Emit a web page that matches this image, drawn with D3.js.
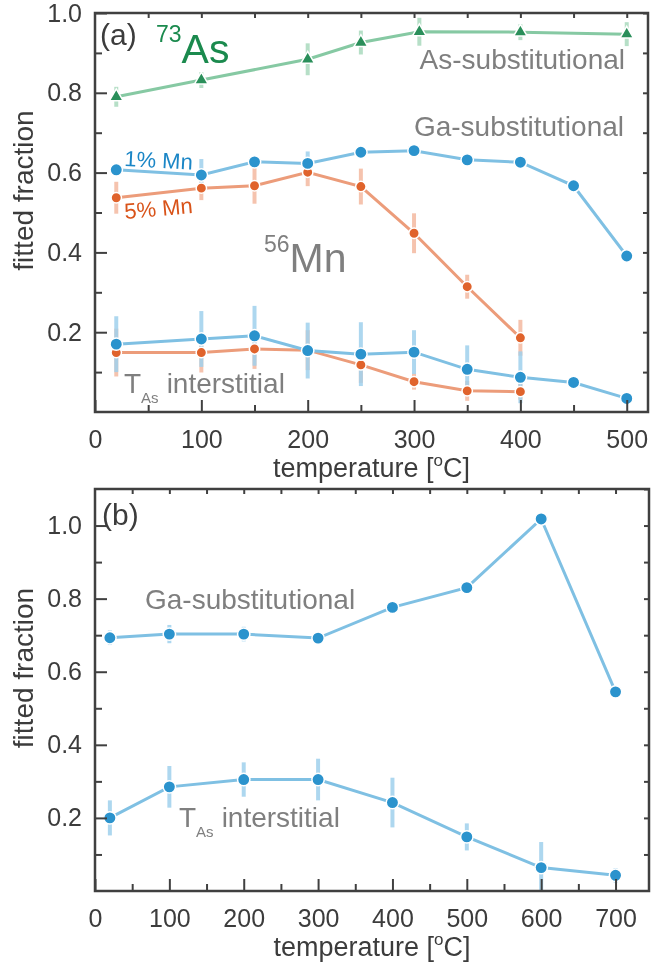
<!DOCTYPE html>
<html>
<head>
<meta charset="utf-8">
<script src="https://cdn.jsdelivr.net/npm/d3@7"></script>
<style>
  body { margin: 0; background: #fff; }
  svg { font-family: "Liberation Sans", Arial, sans-serif; }
  .tick line { stroke: #404040; stroke-width: 2; }
  .tick text { fill: #3c3c3c; font-size: 25px; }
  .err { mix-blend-mode: multiply; }
</style>
</head>
<body>
<div id="chart"></div>
<script>
// panel (a) data
const tempsA = [20, 100, 150, 200, 250, 300, 350, 400, 450, 500];
const tempsA5 = [20, 100, 150, 200, 250, 300, 350, 400];
const asSubTemps = [20, 100, 200, 250, 305, 400, 500];
const asSub = [0.79, 0.832, 0.884, 0.926, 0.953, 0.952, 0.947];
const asSubErr = [0.025, 0.02, 0.04, 0.03, 0.035, 0.02, 0.03];
const gaSub1 = [0.607, 0.594, 0.627, 0.623, 0.651, 0.655, 0.632, 0.626, 0.567, 0.391];
const gaSub1Err = [0.015, 0.04, 0.01, 0.03, 0.015, 0.012, 0.015, 0.01, 0.01, 0.01];
const gaSub5 = [0.537, 0.561, 0.567, 0.601, 0.565, 0.448, 0.314, 0.186];
const gaSub5Err = [0.04, 0.03, 0.045, 0.035, 0.045, 0.05, 0.03, 0.045];
const tas1 = [0.17, 0.183, 0.191, 0.154, 0.145, 0.15, 0.107, 0.087, 0.074, 0.034];
const tas1Err = [0.07, 0.07, 0.075, 0.07, 0.08, 0.055, 0.06, 0.065, 0.008, 0.008];
const tas5 = [0.149, 0.149, 0.158, 0.155, 0.118, 0.076, 0.053, 0.051];
const tas5Err = [0.06, 0.05, 0.05, 0.05, 0.045, 0.02, 0.025, 0.02];

// panel (b) data
const tempsB = [20, 100, 200, 300, 400, 500, 600, 700];
const gaSubB = [0.693, 0.703, 0.703, 0.692, 0.776, 0.83, 1.018, 0.545];
const gaSubBErr = [0.02, 0.025, 0.02, 0.01, 0.015, 0.015, 0.015, 0.008];
const tasB = [0.2, 0.285, 0.305, 0.305, 0.242, 0.148, 0.064, 0.043];
const tasBErr = [0.048, 0.057, 0.047, 0.057, 0.068, 0.037, 0.07, 0.02];

// ticks
const xTicksA = [0, 100, 200, 300, 400, 500];
const xTicksB = [0, 100, 200, 300, 400, 500, 600, 700];
const yTicks = [0.2, 0.4, 0.6, 0.8, 1.0];
const yMinorTicks = [0.1, 0.3, 0.5, 0.7, 0.9];

const green = { mark: "#2a8f5a", line: "#86c9a3", err: "#a9dabd" };
const blue = { mark: "#2b93cd", line: "#7fc0e3", err: "#9fd0ec" };
const orange = { mark: "#e0632c", line: "#ec9c7a", err: "#f4b9a0" };
const gray = "#7f7f7f";

const svg = d3.select("#chart").append("svg")
  .attr("width", 652).attr("height", 966);

function drawFrame(x, y, xTicks, yMax, id) {
  const [x0, x1] = x.range();
  const [yb, yt] = y.range();
  const g = svg.append("g");

  svg.append("clipPath").attr("id", id)
    .append("rect").attr("x", x0).attr("y", yt).attr("width", x1 - x0).attr("height", yb - yt);

  const minorX = d3.range(50, x.domain()[1], 100);
  const allX = d3.range(50, x.domain()[1], 50);
  const allY = d3.range(0.1, yMax + 0.001, 0.1);

  g.append("g").attr("transform", `translate(0,${yb})`)
    .call(d3.axisBottom(x).tickValues(xTicks).tickSize(-12).tickPadding(18));
  g.append("g").attr("transform", `translate(0,${yb})`)
    .call(d3.axisBottom(x).tickValues(minorX).tickSize(-7).tickFormat(""));
  g.append("g").attr("transform", `translate(0,${yt})`)
    .call(d3.axisTop(x).tickValues(allX).tickSize(-5).tickFormat(""));
  g.append("g").attr("transform", `translate(${x0},0)`)
    .call(d3.axisLeft(y).tickValues(yTicks).tickSize(-12).tickPadding(13).tickFormat(d3.format(".1f")));
  g.append("g").attr("transform", `translate(${x0},0)`)
    .call(d3.axisLeft(y).tickValues(yMinorTicks).tickSize(-7).tickFormat(""));
  g.append("g").attr("transform", `translate(${x1},0)`)
    .call(d3.axisRight(y).tickValues(allY).tickSize(-5).tickFormat(""));
  g.selectAll(".domain").remove();

  g.append("rect")
    .attr("x", x0).attr("y", yt).attr("width", x1 - x0).attr("height", yb - yt)
    .attr("fill", "none").attr("stroke", "#404040").attr("stroke-width", 2.5);

  // axis titles
  const xt = g.append("text")
    .attr("x", (x0 + x1) / 2).attr("y", yb + 65)
    .attr("text-anchor", "middle").attr("font-size", 27).attr("fill", "#3c3c3c");
  xt.append("tspan").text("temperature [");
  xt.append("tspan").attr("font-size", 17).attr("dy", -11).text("o");
  xt.append("tspan").attr("dy", 11).text("C]");

  g.append("text")
    .attr("transform", `translate(33,${(yb + yt) / 2 - 22}) rotate(-90)`)
    .attr("text-anchor", "middle").attr("font-size", 28).attr("fill", "#3c3c3c")
    .text("fitted fraction");
  return g;
}

function drawErrors(x, y, temps, vals, errs, col, clip) {
  svg.append("g").attr("clip-path", `url(#${clip})`)
    .selectAll("line").data(temps).join("line")
    .attr("class", "err")
    .attr("x1", d => x(d)).attr("x2", d => x(d))
    .attr("y1", (d, i) => y(vals[i] - errs[i]))
    .attr("y2", (d, i) => y(vals[i] + errs[i]))
    .attr("stroke", col.err).attr("stroke-width", 4).attr("opacity", 0.85);
}

function drawLine(x, y, temps, vals, col, shape, r) {
  const pts = temps.map((t, i) => [t, vals[i]]);
  svg.append("path").datum(pts)
    .attr("fill", "none").attr("stroke", col.line).attr("stroke-width", 3)
    .attr("d", d3.line().x(d => x(d[0])).y(d => y(d[1])));
  const sym = d3.symbol().type(shape === "tri" ? d3.symbolTriangle : d3.symbolCircle)
    .size(shape === "tri" ? 80 : Math.PI * r * r);
  svg.append("g").selectAll("path").data(pts).join("path")
    .attr("transform", d => `translate(${x(d[0])},${y(d[1])})`)
    .attr("d", sym)
    .attr("fill", col.mark).attr("stroke", "#fff").attr("stroke-width", 1.5);
}

// ---------- panel (a)
const xA = d3.scaleLinear().domain([0, 520]).range([95, 648]);
const yA = d3.scaleLinear().domain([0, 1]).range([412, 13]);

drawErrors(xA, yA, asSubTemps, asSub, asSubErr, green, "clipA");
drawErrors(xA, yA, tempsA5, gaSub5, gaSub5Err, orange, "clipA");
drawErrors(xA, yA, tempsA, gaSub1, gaSub1Err, blue, "clipA");
drawErrors(xA, yA, tempsA5, tas5, tas5Err, orange, "clipA");
drawErrors(xA, yA, tempsA, tas1, tas1Err, blue, "clipA");

drawLine(xA, yA, asSubTemps, asSub, green, "tri");
drawLine(xA, yA, tempsA5, gaSub5, orange, "circle", 5.2);
drawLine(xA, yA, tempsA, gaSub1, blue, "circle", 6.2);
drawLine(xA, yA, tempsA5, tas5, orange, "circle", 5.2);
drawLine(xA, yA, tempsA, tas1, blue, "circle", 6.2);

drawFrame(xA, yA, xTicksA, 1.0, "clipA");

svg.append("text").attr("x", 100).attr("y", 45).attr("font-size", 30).attr("fill", "#3c3c3c").text("(a)");
const as73 = svg.append("text").attr("x", 156).attr("y", 63).attr("fill", "#1b8a4e");
as73.append("tspan").attr("font-size", 23).attr("dy", -21).text("73");
as73.append("tspan").attr("font-size", 41).attr("dy", 21).text("As");
svg.append("text").attr("x", 625).attr("y", 69).attr("text-anchor", "end")
  .attr("font-size", 28).attr("fill", gray).text("As-substitutional");
svg.append("text").attr("x", 624).attr("y", 136).attr("text-anchor", "end")
  .attr("font-size", 28).attr("fill", gray).text("Ga-substitutional");
svg.append("text").attr("transform", "translate(124,166) rotate(3)")
  .attr("font-size", 22).attr("fill", "#1b86c6").text("1% Mn");
svg.append("text").attr("transform", "translate(125,219) rotate(-5)")
  .attr("font-size", 22).attr("fill", "#d95319").text("5% Mn");
const mn56 = svg.append("text").attr("x", 264).attr("y", 272).attr("fill", gray);
mn56.append("tspan").attr("font-size", 23).attr("dy", -20).text("56");
mn56.append("tspan").attr("font-size", 41).attr("dy", 20).text("Mn");
const tasA = svg.append("text").attr("x", 124).attr("y", 393).attr("fill", gray).attr("font-size", 28);
tasA.append("tspan").text("T");
tasA.append("tspan").attr("font-size", 15).attr("dy", 10).text("As");
tasA.append("tspan").attr("dy", -10).attr("dx", 8).text("interstitial");

// ---------- panel (b)
const xB = d3.scaleLinear().domain([0, 745]).range([95, 649]);
const yB = d3.scaleLinear().domain([0, 1.1]).range([891, 489]);

drawErrors(xB, yB, tempsB, gaSubB, gaSubBErr, blue, "clipB");
drawErrors(xB, yB, tempsB, tasB, tasBErr, blue, "clipB");
drawLine(xB, yB, tempsB, gaSubB, blue, "circle", 6.2);
drawLine(xB, yB, tempsB, tasB, blue, "circle", 6.2);

drawFrame(xB, yB, xTicksB, 1.1, "clipB");

svg.append("text").attr("x", 102).attr("y", 525).attr("font-size", 30).attr("fill", "#3c3c3c").text("(b)");
svg.append("text").attr("x", 145).attr("y", 609)
  .attr("font-size", 28).attr("fill", gray).text("Ga-substitutional");
const tasBt = svg.append("text").attr("x", 179).attr("y", 827).attr("fill", gray).attr("font-size", 28);
tasBt.append("tspan").text("T");
tasBt.append("tspan").attr("font-size", 15).attr("dy", 10).text("As");
tasBt.append("tspan").attr("dy", -10).attr("dx", 8).text("interstitial");
</script>
</body>
</html>
